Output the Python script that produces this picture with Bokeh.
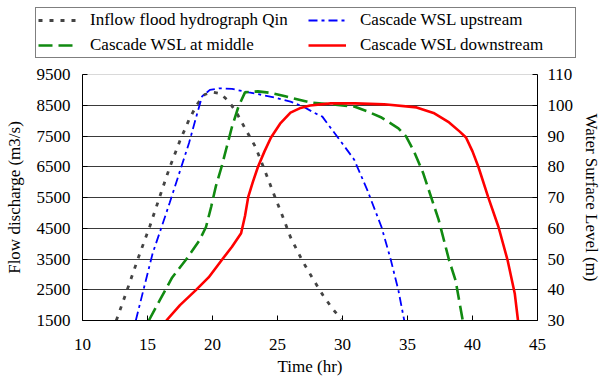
from bokeh.plotting import figure
from bokeh.models import Range1d, LinearAxis, FixedTicker, Legend, LegendItem
from bokeh.embed import file_html
from bokeh.resources import INLINE

# ---- data ----
x_ticks = [10, 15, 20, 25, 30, 35, 40, 45]
flow_ticks = [1500, 2500, 3500, 4500, 5500, 6500, 7500, 8500, 9500]
wsl_ticks = [30, 40, 50, 60, 70, 80, 90, 100, 110]

time_qin = [12.6, 13.4, 14.3, 15.2, 16.0, 16.7, 17.5, 18.2, 18.8, 19.4, 20.0, 20.6,
            21.2, 21.8, 22.5, 23.3, 24.0, 24.8, 25.4, 26.0, 26.9, 27.8, 28.5, 29.2, 29.9]
flow_qin = [1500, 2450, 3550, 4590, 5600, 6470, 7350, 8035, 8520, 8850, 8930, 8880,
            8650, 8300, 7750, 7150, 6400, 5520, 4880, 4210, 3450, 2800, 2320, 1900, 1540]

time_up = [14.1, 14.75, 15.4, 16.05, 16.7, 17.45, 18.2, 18.7, 19.2, 19.8, 20.5, 21.5,
           22.8, 24.0, 25.0, 26.0, 27.0, 27.8, 28.45, 29.2, 30.0, 30.9, 31.9, 33.0,
           33.7, 34.3, 34.75]
wsl_up = [30, 41, 51.9, 60, 68.2, 78, 87.8, 95.5, 102.9, 105, 105.5, 105.3,
          104.2, 103.2, 102.3, 101.2, 99.5, 97.6, 96.3, 92, 87.5, 82.3, 72.5, 60.4,
          50, 39.8, 30]

time_mid = [15.1, 16.0, 16.9, 18.0, 19.0, 19.5, 19.9, 20.25, 20.7, 21.1, 21.5, 22.0,
            22.5, 23.5, 24.5, 25.6, 27.5, 29.1, 30.9, 31.9, 33.0, 33.6, 34.3, 34.9,
            35.5, 36.2, 37.4, 38.2, 38.7, 39.25]
wsl_mid = [30, 37, 44, 50, 56.1, 60.4, 67, 73.5, 80, 86.5, 93, 99.6,
           104.2, 104.5, 104, 102.9, 100.9, 100.3, 99.6, 98, 96, 94.4, 92.5, 89.8,
           85, 78, 62.7, 49.6, 43, 30]

time_down = [16.45, 17.5, 18.7, 19.7, 20.7, 21.5, 22.2, 22.5, 22.75, 23.1, 23.5, 24.0,
             24.5, 25.2, 26.0, 26.7, 27.5, 29.1, 31.0, 33.2, 35.7, 37.0, 38.2, 39.0,
             39.5, 40.0, 40.45, 41.2, 42.0, 42.7, 43.25, 43.5]
wsl_down = [30, 35, 39.8, 44, 49.6, 54, 58.4, 64, 70.2, 75, 80, 85,
            89.5, 94, 97.6, 99, 99.9, 100.6, 100.6, 100.3, 99.3, 97.5, 94.4, 91.5,
            89.5, 85, 80, 70.2, 60.4, 49.6, 38.8, 30]

labels = ["Inflow flood hydrograph Qin", "Cascade WSL upstream",
          "Cascade WSL at middle", "Cascade WSL downstream"]
series_t = [time_qin, time_up, time_mid, time_down]
series_v = [flow_qin, wsl_up, wsl_mid, wsl_down]

FONT = "Liberation Serif"
FS = "17px"

styles = [dict(line_color="#444444", line_width=2.8, line_dash="4 7"),
          dict(line_color="#0000ff", line_width=1.8, line_dash="9 4 3 4"),
          dict(line_color="#118a11", line_width=2.6, line_dash="14 6"),
          dict(line_color="#ff0000", line_width=2.6)]

# ---- main chart ----
p = figure(width=604, height=317, output_backend="svg", toolbar_location=None,
           x_range=Range1d(10, 45), y_range=Range1d(1500, 9500),
           min_border_left=82, min_border_right=61, min_border_top=10,
           min_border_bottom=61, background_fill_color="white",
           border_fill_color="white")
p.extra_y_ranges = {"wsl": Range1d(30, 110)}
p.outline_line_color = "#d9d9d9"

p.xgrid.visible = False
p.ygrid.ticker = FixedTicker(ticks=flow_ticks[1:-1])
p.ygrid.grid_line_color = "#3a3a3a"
p.ygrid.grid_line_width = 1

p.line(time_qin, flow_qin, **styles[0])
p.line(time_up, wsl_up, y_range_name="wsl", **styles[1])
p.line(time_mid, wsl_mid, y_range_name="wsl", **styles[2])
p.line(time_down, wsl_down, y_range_name="wsl", **styles[3])

right = LinearAxis(y_range_name="wsl", axis_label="Water Surface Level (m)")
p.add_layout(right, "right")

p.xaxis.axis_label = "Time (hr)"
p.yaxis[0].axis_label = "Flow discharge (m3/s)"
p.xaxis.ticker = FixedTicker(ticks=x_ticks)
p.yaxis[0].ticker = FixedTicker(ticks=flow_ticks)
right.ticker = FixedTicker(ticks=wsl_ticks)

for ax in [p.xaxis[0], p.yaxis[0], right]:
    ax.axis_line_color = "black"
    ax.axis_line_width = 1
    ax.major_tick_line_color = "black"
    ax.major_tick_in = 5
    ax.major_tick_out = 0
    ax.minor_tick_in = 0
    ax.minor_tick_out = 0
    ax.major_label_text_font = FONT
    ax.major_label_text_font_size = FS
    ax.major_label_text_color = "black"
    ax.axis_label_text_font = FONT
    ax.axis_label_text_font_size = FS
    ax.axis_label_text_font_style = "normal"
    ax.axis_label_text_color = "black"

p.xaxis.major_label_standoff = 18
p.xaxis.axis_label_standoff = 4
p.yaxis[0].major_label_standoff = 12
p.yaxis[0].axis_label_standoff = 10
right.major_label_standoff = 10
right.axis_label_standoff = 6

# ---- legend strip above the chart ----
lf = figure(width=604, height=64, output_backend="svg", toolbar_location=None,
            x_range=Range1d(0, 1), y_range=Range1d(0, 1), min_border=0,
            x_axis_location=None, y_axis_location=None,
            border_fill_color="white", background_fill_color="white")
lf.grid.visible = False
lf.outline_line_color = None
# legend samples (data lies outside this strip's ranges, so only the keys show)
keys = [lf.line(t, v, **s) for t, v, s in zip(series_t, series_v, styles)]

order = [0, 2, 1, 3]  # legend fills column by column
legend = Legend(items=[LegendItem(label=labels[i], renderers=[keys[i]]) for i in order],
                ncols=2, location=(35, 6))
legend.border_line_color = "black"
legend.border_line_width = 1
legend.background_fill_color = "white"
legend.background_fill_alpha = 1
legend.label_text_font = FONT
legend.label_text_font_size = FS
legend.label_text_color = "black"
legend.glyph_width = 38
legend.glyph_height = 16
legend.label_height = 16
legend.label_width = 213
legend.label_standoff = 14
legend.spacing = 5
legend.padding = 2
legend.margin = 0
lf.add_layout(legend, "center")

open("out.html", "w").write(file_html([lf, p], INLINE))
